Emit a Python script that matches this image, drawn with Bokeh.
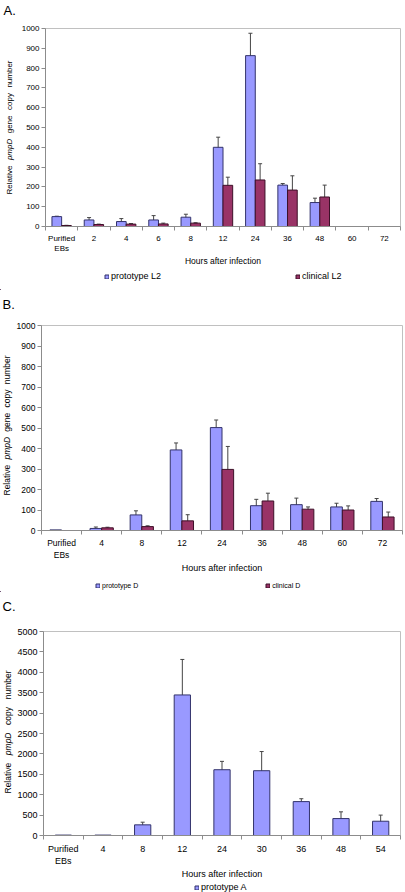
from bokeh.plotting import figure
from bokeh.models import (ColumnDataSource, FixedTicker, Whisker, TeeHead, Label,
                          Legend, LegendItem, Range1d)
from bokeh.layouts import column, row
from bokeh.embed import file_html
from bokeh.resources import INLINE
from math import pi

FONT = "Liberation Sans"

# ---------------- data ----------------
a_hours = ["Purified\nEBs", "2", "4", "6", "8", "12", "24", "36", "48", "60", "72"]
a_proto = [50, 33, 25, 33, 47, 400, 863, 209, 121, None, None]
a_proto_err = [2, 12, 15, 22, 15, 51, 113, 8, 22, 0, 0]
a_clin = [5, 10, 12, 13, 17, 208, 235, 184, 149, None, None]
a_clin_err = [1, 2, 3, 4, 2, 41, 82, 72, 60, 0, 0]

b_hours = ["Purified\nEBs", "4", "8", "12", "24", "36", "48", "60", "72"]
b_proto = [3, 10, 76, 393, 502, 121, 126, 115, 142]
b_proto_err = [0, 7, 20, 34, 37, 31, 32, 18, 14]
b_clin = [None, 13, 19, 47, 298, 144, 104, 100, 66]
b_clin_err = [0, 3, 4, 30, 112, 38, 11, 20, 24]

c_hours = ["Purified\nEBs", "4", "8", "12", "24", "30", "36", "48", "54"]
c_proto = [10, 10, 261, 3445, 1612, 1588, 831, 415, 350]
c_proto_err = [0, 0, 65, 870, 205, 470, 70, 165, 150]

title_words_ab = [("Relative", "normal"), ("pmpD", "italic"), ("gene", "normal"),
                  ("copy", "normal"), ("number", "normal")]
title_words_c = [("Relative", "normal"), ("pmpD", "italic"), ("copy", "normal"),
                 ("number", "normal")]

BLUE, BLUE_LINE = "#9999FF", "#33336b"
RED, RED_LINE = "#993366", "#3d1028"
ERR = "#454545"
AXIS = "#8c8c8c"

# approximate Arial advance widths (per em) for spacing the rotated title words
_W = {" ": .278, "R": .722, "e": .556, "l": .222, "a": .556, "t": .278, "i": .222,
      "v": .5, "p": .556, "m": .833, "D": .722, "g": .556, "n": .556, "c": .5,
      "o": .556, "y": .5, "u": .556, "b": .556, "r": .333}


def tw(s, fs):
    return sum(_W.get(ch, .55) for ch in s) * fs


def blank(w, h, bt=0, bb=0, yr=None):
    f = figure(width=w, height=h, x_range=Range1d(0, w),
               y_range=Range1d(0, yr if yr is not None else h),
               min_border_left=0, min_border_right=0, min_border_top=bt,
               min_border_bottom=bb, toolbar_location=None, output_backend="svg",
               x_axis_location=None, y_axis_location=None, title=None)
    f.xgrid.visible = False
    f.ygrid.visible = False
    f.outline_line_color = None
    f.background_fill_color = "white"
    f.border_fill_color = "white"
    return f


def make_chart(hours, series, ymax, ystep, w, h, bl, br, bt, bb,
               tick_fs, axis_fs, bar_w, lab_standoff, axlab_standoff):
    n = len(hours)
    p = figure(width=w, height=h, min_border_left=bl, min_border_right=br,
               min_border_top=bt, min_border_bottom=bb, title=None,
               x_range=Range1d(0, n), y_range=Range1d(0, ymax),
               output_backend="svg", toolbar_location=None)
    p.xgrid.visible = False
    p.ygrid.visible = False
    p.outline_line_color = "#c0c0c0"
    p.background_fill_color = "white"
    p.border_fill_color = "white"

    centers = [i + 0.5 for i in range(n)]
    nser = len(series)
    for k, (name, vals, errs, fill, line) in enumerate(series):
        off = (k - (nser - 1) / 2) * bar_w
        xs = [c + off for c in centers]
        src = ColumnDataSource(dict(x=xs, top=[float("nan") if v is None else v for v in vals]))
        p.vbar(x="x", top="top", width=bar_w, bottom=0, source=src,
               fill_color=fill, line_color=line, line_width=1)
        ok = [(x, v, e) for x, v, e in zip(xs, vals, errs) if v is not None and e > 0]
        esrc = ColumnDataSource(dict(base=[o[0] for o in ok],
                                     upper=[o[1] + o[2] for o in ok],
                                     lower=[o[1] - o[2] for o in ok]))
        wk = Whisker(base="base", upper="upper", lower="lower", source=esrc,
                     dimension="height", line_color=ERR, line_width=1,
                     upper_head=TeeHead(size=4, line_color=ERR, line_width=1),
                     lower_head=TeeHead(size=4, line_color=ERR, line_width=1))
        p.add_layout(wk)

    xa = p.xaxis[0]
    xa.ticker = FixedTicker(ticks=centers, minor_ticks=list(range(n + 1)))
    xa.major_label_overrides = {c: hh for c, hh in zip(centers, hours)}
    xa.major_tick_out = 0
    xa.major_tick_in = 0
    xa.minor_tick_out = 4
    xa.minor_tick_in = 0
    xa.minor_tick_line_color = AXIS
    xa.axis_line_color = AXIS
    xa.major_label_standoff = lab_standoff
    xa.major_label_text_font = FONT
    xa.major_label_text_font_size = tick_fs
    xa.major_label_text_color = "black"
    xa.axis_label = "Hours after infection"
    xa.axis_label_text_font = FONT
    xa.axis_label_text_font_style = "normal"
    xa.axis_label_text_font_size = axis_fs
    xa.axis_label_text_color = "black"
    xa.axis_label_standoff = axlab_standoff

    ya = p.yaxis[0]
    ya.ticker = FixedTicker(ticks=list(range(0, ymax + 1, ystep)), minor_ticks=[])
    ya.major_tick_out = 4
    ya.major_tick_in = 0
    ya.minor_tick_out = 0
    ya.minor_tick_in = 0
    ya.major_tick_line_color = AXIS
    ya.axis_line_color = AXIS
    ya.major_label_standoff = 2
    ya.major_label_text_font = FONT
    ya.major_label_text_font_size = tick_fs
    ya.major_label_text_color = "black"
    return p


def make_left(w, h, bt, bb, words, fs, x, span_top, span_bottom):
    """Rotated y title; frame shares the chart's vertical extent (page px)."""
    fh = h - bt - bb
    f = blank(w, h, bt=bt, bb=bb, yr=fh)
    fsv = float(fs.replace("px", ""))
    widths = [tw(t, fsv) for t, _ in words]
    gap = ((span_bottom - span_top) - sum(widths)) / (len(words) - 1)
    pos = span_bottom  # page y where the first word starts (reading upward)
    for (t, style), wd in zip(words, widths):
        cy_page = pos - wd / 2
        f.add_layout(Label(x=x, y=(h - bb) - cy_page, text=t, angle=pi / 2,
                           text_align="center", text_baseline="middle",
                           text_font=FONT, text_font_size=fs,
                           text_font_style=style, text_color="black"))
        pos -= wd + gap
    return f


def make_header(w, h, letter, fs, x, top):
    f = blank(w, h)
    f.add_layout(Label(x=x, y=h - top, text=letter, text_align="left",
                       text_baseline="top", text_font=FONT, text_font_size=fs,
                       text_color="black"))
    return f


def make_legend(w, h, series, x, y, spacing, fs):
    f = blank(w, h)
    items = []
    for name, vals, errs, fill, line in series:
        r = f.vbar(x=[-100], top=[1], width=1, bottom=0, fill_color=fill,
                   line_color=line, line_width=1)
        items.append(LegendItem(label=name, renderers=[r]))
    leg = Legend(items=items, orientation="horizontal", location=(x, y),
                 spacing=spacing, glyph_width=5, glyph_height=5,
                 label_standoff=2, label_text_font=FONT, label_text_font_size=fs,
                 label_text_color="black", label_height=10, padding=0, margin=0,
                 border_line_color=None, background_fill_alpha=0)
    f.add_layout(leg)
    return f


# ---------------- panel A (page y 0-290) ----------------
a_series = [("prototype L2", a_proto, a_proto_err, BLUE, BLUE_LINE),
            ("clinical L2", a_clin, a_clin_err, RED, RED_LINE)]
head_a = make_header(405, 18, "A.", "13px", 3, 2)
chart_a = make_chart(a_hours, a_series, 1000, 100, w=387, h=252, bl=25, br=5, bt=10,
                     bb=44, tick_fs="8px", axis_fs="8.5px", bar_w=0.3,
                     lab_standoff=3, axlab_standoff=0)
left_a = make_left(18, 252, 10, 44, title_words_ab, "8px", 9, 60 - 18, 194 - 18)
leg_a = make_legend(405, 20, a_series, 104, 9, 134, "9px")

# ---------------- panel B (page y 290-592) ----------------
b_series = [("prototype D", b_proto, b_proto_err, BLUE, BLUE_LINE),
            ("clinical D", b_clin, b_clin_err, RED, RED_LINE)]
head_b = make_header(405, 20, "B.", "13px", 2, 6)
chart_b = make_chart(b_hours, b_series, 1000, 100, w=392, h=265, bl=25, br=3, bt=15,
                     bb=45, tick_fs="8.5px", axis_fs="9px", bar_w=0.29,
                     lab_standoff=3, axlab_standoff=0)
left_b = make_left(13, 265, 15, 45, title_words_ab, "8.5px", 6, 355 - 310, 495 - 310)
leg_b = make_legend(405, 17, b_series, 95, 2, 127, "7px")

# ---------------- panel C (page y 592-892) ----------------
c_series = [("prototype A", c_proto, c_proto_err, BLUE, BLUE_LINE)]
head_c = make_header(405, 22, "C.", "13px", 2, 6)
chart_c = make_chart(c_hours, c_series, 5000, 500, w=391, h=267, bl=27, br=5, bt=17,
                     bb=46, tick_fs="9px", axis_fs="9px", bar_w=0.41,
                     lab_standoff=4, axlab_standoff=0)
left_c = make_left(14, 267, 17, 46, title_words_c, "8.5px", 7.5, 670 - 614, 793 - 614)
leg_c = make_legend(405, 11, c_series, 194, 0, 0, "9px")

layout = column(head_a, row(left_a, chart_a, spacing=0), leg_a,
                head_b, row(left_b, chart_b, spacing=0), leg_b,
                head_c, row(left_c, chart_c, spacing=0), leg_c, spacing=0)
open("out.html", "w").write(file_html(layout, INLINE))
